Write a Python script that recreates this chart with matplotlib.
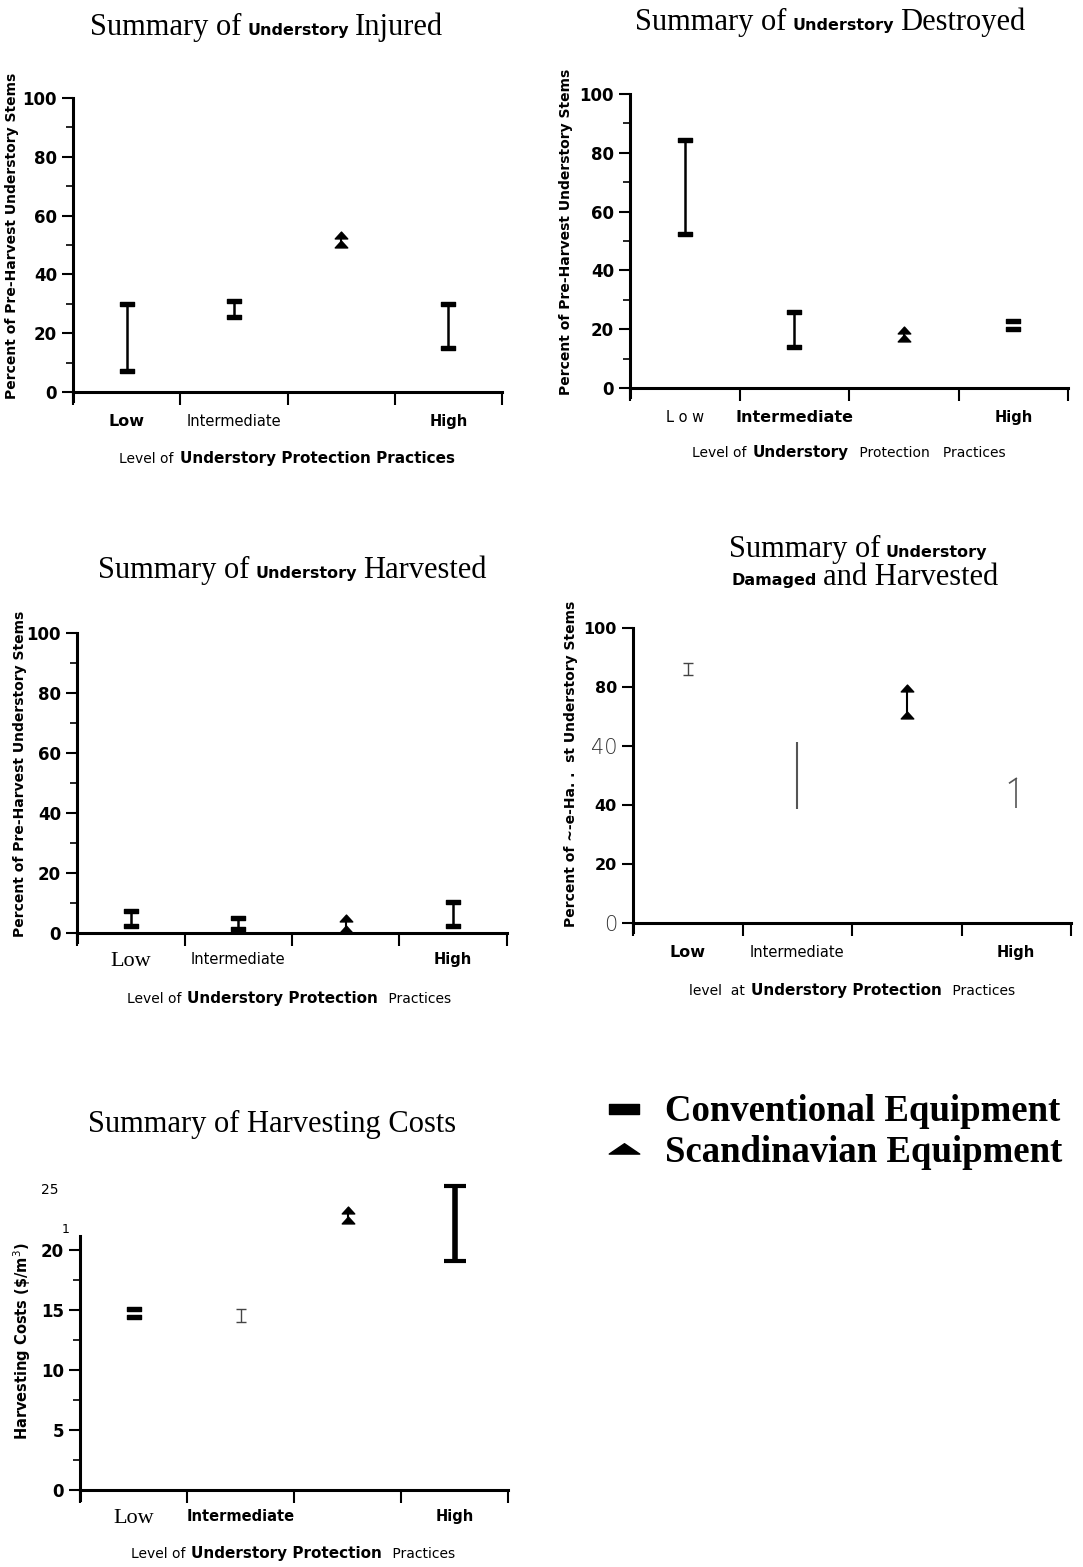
import numpy as np
import matplotlib
matplotlib.use('Agg')
import matplotlib.pyplot as plt
from matplotlib.lines import Line2D
from matplotlib.path import Path

W, H = 1083, 1567

# categories along the x axis (4th slot is the Scandinavian system)
positions = [0.5, 1.5, 2.5, 3.5]
levels = ['Low', 'Intermediate', '', 'High']

# ranges (low / high end of each bar)
injured_lo = [7, 25.5, 50.5, 15]
injured_hi = [30, 31, 53.5, 30]
destroyed_lo = [52.5, 14, 17, 20]
destroyed_hi = [84.5, 26, 19.8, 22.8]
harvested_lo = [2.2, 1.5, 1.2, 2.5]
harvested_hi = [7.2, 5, 5, 10.5]
damaged_lo = [84, 38.5, 70.5, 39]
damaged_hi = [88, 61.5, 79.5, 49]
cost_lo = [14.4, 14.0, 22.5, 19.1]
cost_hi = [15.1, 15.1, 23.3, 25.3]

# how each mark looks in the scan
styles_injured = ['cap', 'cap', 'tri', 'cap']
styles_destroyed = ['cap', 'cap', 'tri', 'bars']
styles_harvested = ['cap', 'cap', 'tri', 'cap']
styles_damaged = ['thin_i', 'line', 'tri', 'one']
styles_cost = ['bars', 'thin_i', 'tri', 'heavy_i']

SERIF = 'Liberation Serif'
SANS = 'DejaVu Sans'

cap_marker = Path([(-1, -0.32), (1, -0.32), (1, 0.32), (-1, 0.32), (-1, -0.32)],
                  [Path.MOVETO, Path.LINETO, Path.LINETO, Path.LINETO, Path.CLOSEPOLY])
flat_tri = Path([(-1, -0.3), (1, -0.3), (0, 0.38), (-1, -0.3)],
                [Path.MOVETO, Path.LINETO, Path.LINETO, Path.CLOSEPOLY])
chevron = Path([(-1, -0.55), (1, -0.55), (0, 0.55), (-1, -0.55)],
               [Path.MOVETO, Path.LINETO, Path.LINETO, Path.CLOSEPOLY])

fig = plt.figure(figsize=(W / 100, H / 100), dpi=100)
renderer = fig.canvas.get_renderer()


def px_axes(x0, x1, y_zero, y_ref, ref_val, ymin, ymax):
    ppu = (y_zero - y_ref) / ref_val
    bottom_px = y_zero - ymin * ppu
    top_px = y_zero - ymax * ppu
    ax = fig.add_axes([x0 / W, 1 - bottom_px / H, (x1 - x0) / W, (bottom_px - top_px) / H])
    ax.set_ylim(ymin, ymax)
    ax.set_xlim(0, 4)
    return ax


def mixed_text(pieces, cx, base_y, gap=6):
    texts = [fig.text(0, 0, s, va='baseline', ha='left', **fd) for s, fd in pieces]
    widths = [t.get_window_extent(renderer).width for t in texts]
    x = cx - (sum(widths) + gap * (len(texts) - 1)) / 2
    for t, w in zip(texts, widths):
        t.set_position((x / W, 1 - base_y / H))
        x += w + gap


def draw_range(ax, x, lo, hi, style):
    k = dict(clip_on=False, zorder=3)
    if style == 'cap':
        ax.vlines(x, lo, hi, color='k', lw=1.8, **k)
        ax.plot([x, x], [lo, hi], ls='none', marker=cap_marker, ms=10, color='k', **k)
    elif style == 'bars':
        ax.plot([x, x], [lo, hi], ls='none', marker=cap_marker, ms=10, color='k', **k)
    elif style == 'tri':
        ax.vlines(x, lo, hi, color='k', lw=1.5, **k)
        ax.plot([x, x], [lo, hi], ls='none', marker=chevron, ms=9, color='k', **k)
    elif style == 'thin_i':
        ax.vlines(x, lo, hi, color='#444444', lw=1, **k)
        ax.plot([x, x], [lo, hi], ls='none', marker='_', ms=7, mew=1, color='#444444', **k)
    elif style == 'line':
        ax.vlines(x, lo, hi, color='#555555', lw=1.5, **k)
    elif style == 'one':
        ax.vlines(x, lo, hi, color='#555555', lw=1.2, **k)
        ax.plot([x - 0.06, x], [hi - 1.5, hi], color='#555555', lw=1.2, **k)
    elif style == 'heavy_i':
        ax.vlines(x, lo, hi, color='k', lw=4, **k)
        ax.plot([x, x], [lo, hi], ls='none', marker='_', ms=16, mew=3, color='k', **k)


def style_axes(ax, xfonts, pad=16):
    for s in ['top', 'right']:
        ax.spines[s].set_visible(False)
    ax.spines['bottom'].set_position(('data', 0))
    ax.spines['left'].set_linewidth(2.2)
    ax.spines['bottom'].set_linewidth(2.2)
    ax.set_xticks(range(5))
    ax.set_xticklabels([])
    ax.set_xticks(positions, minor=True)
    ax.set_xticklabels(levels, minor=True)
    ax.tick_params(axis='x', which='major', length=9, width=1.5)
    ax.tick_params(axis='x', which='minor', length=0, pad=pad)
    for lab, fd in zip(ax.get_xticklabels(minor=True), xfonts):
        lab.set(**fd)
    ax.tick_params(axis='y', which='major', length=8, width=1.5, labelsize=12)
    ax.tick_params(axis='y', which='minor', length=5, width=1.2)
    for lab in ax.get_yticklabels():
        lab.set(family=SANS, weight='bold')


def percent_ticks(ax):
    ax.set_yticks(np.arange(0, 101, 20))
    ax.set_yticks(np.arange(10, 100, 20), minor=True)


def ylabel(ax, text, cx, cy, size=10):
    ax.set_ylabel(text, family=SANS, weight='bold', fontsize=size)
    ax.yaxis.set_label_coords(cx / W, 1 - cy / H, transform=fig.transFigure)


B = dict(family=SANS, weight='bold', fontsize=11.5)
R = dict(family=SANS, weight='normal', fontsize=10.5)
RB = dict(family=SANS, weight='bold', fontsize=10.5)
TS = dict(family=SERIF, fontsize=16)
T = dict(family=SERIF, fontsize=22)
U = dict(family=SANS, weight='bold', fontsize=11.5)
XR = dict(family=SANS, fontsize=10)
XB = dict(family=SANS, weight='bold', fontsize=11)

# ---- panel 1: injured
ax1 = px_axes(73, 502, 392, 98, 100, -3, 100)
for x, lo, hi, st in zip(positions, injured_lo, injured_hi, styles_injured):
    draw_range(ax1, x, lo, hi, st)
percent_ticks(ax1)
style_axes(ax1, [B, R, R, RB])
ylabel(ax1, 'Percent of Pre-Harvest Understory Stems', 19, 236)
mixed_text([('Summary of', T), ('Understory', U), ('Injured', T)], 267, 35)
mixed_text([('Level of', XR), ('Understory Protection Practices', XB)], 287, 463)

# ---- panel 2: destroyed
ax2 = px_axes(630, 1068, 388, 94, 100, -3, 100)
for x, lo, hi, st in zip(positions, destroyed_lo, destroyed_hi, styles_destroyed):
    draw_range(ax2, x, lo, hi, st)
percent_ticks(ax2)
style_axes(ax2, [R, B, R, RB])
ax2.set_xticklabels(['L o w', 'Intermediate', '', 'High'], minor=True)
for lab, fd in zip(ax2.get_xticklabels(minor=True), [R, B, R, RB]):
    lab.set(**fd)
ylabel(ax2, 'Percent of Pre-Harvest Understory Stems', 573, 232)
mixed_text([('Summary of', T), ('Understory', U), ('Destroyed', T)], 830, 30)
mixed_text([('Level of', XR), ('Understory', XB), (' Protection   Practices', XR)], 849, 457)

# ---- panel 3: harvested
ax3 = px_axes(77, 507, 933, 633, 100, -3, 100)
for x, lo, hi, st in zip(positions, harvested_lo, harvested_hi, styles_harvested):
    draw_range(ax3, x, lo, hi, st)
percent_ticks(ax3)
style_axes(ax3, [TS, R, R, RB], pad=14)
ylabel(ax3, 'Percent of Pre-Harvest Understory Stems', 27, 774)
mixed_text([('Summary of', T), ('Understory', U), ('Harvested', T)], 292, 578)
mixed_text([('Level of', XR), ('Understory Protection', XB), (' Practices', XR)], 289, 1003)

# ---- panel 4: damaged and harvested
ax4 = px_axes(633, 1071, 923, 628, 100, -3, 100)
for x, lo, hi, st in zip(positions, damaged_lo, damaged_hi, styles_damaged):
    draw_range(ax4, x, lo, hi, st)
ax4.set_yticks(np.arange(0, 101, 20))
style_axes(ax4, [B, R, R, RB])
ax4.set_yticklabels(['0', '20', '40', '40', '80', '100'])
for lab, fd in zip(ax4.get_yticklabels(),
                   [dict(family=SANS, weight='light', fontsize=15, color='#333333'), B, B,
                    dict(family=SANS, weight='light', fontsize=15, color='#333333'), B, B]):
    lab.set(**fd)
ylabel(ax4, 'Percent of ~-e-Ha. .  st Understory Stems', 578, 764)
mixed_text([('Summary of', T), ('Understory', U)], 858, 557)
mixed_text([('Damaged', U), ('and Harvested', T)], 865, 585)
mixed_text([('level  at', XR), ('Understory Protection', XB), (' Practices', XR)], 852, 995)

# ---- panel 5: harvesting costs
ax5 = px_axes(80, 508, 1490, 1250, 20, -0.8, 21.2)
for x, lo, hi, st in zip(positions, cost_lo, cost_hi, styles_cost):
    draw_range(ax5, x, lo, hi, st)
ax5.set_yticks(np.arange(0, 21, 5))
ax5.set_yticks(np.arange(2.5, 21, 5), minor=True)
style_axes(ax5, [TS, RB, R, RB], pad=14)
ax5.text(-0.05, 25, '25', transform=ax5.get_yaxis_transform(), ha='right', va='center',
         family=SANS, fontsize=10)
ax5.text(-0.025, 21.7, '1', transform=ax5.get_yaxis_transform(), ha='right', va='center',
         family=SANS, fontsize=9)
ylabel(ax5, r'Harvesting Costs (\$/m$^3$)', 33, 1341, size=10.5)
mixed_text([('Summary of Harvesting Costs', T)], 272, 1132)
mixed_text([('Level of', XR), ('Understory Protection', XB), (' Practices', XR)], 293, 1558)

# ---- legend
handles = [Line2D([], [], ls='none', marker=cap_marker, ms=22, color='k'),
           Line2D([], [], ls='none', marker=flat_tri, ms=22, color='k')]
fig.legend(handles, ['Conventional Equipment', 'Scandinavian Equipment'],
           loc='upper left', bbox_to_anchor=(584 / W, 1 - 1076 / H), frameon=False,
           prop=dict(family=SERIF, weight='bold', size=26.5), handlelength=1.2,
           handletextpad=0.5, labelspacing=0.15, borderpad=0)

fig.savefig('out.png', dpi=100)
